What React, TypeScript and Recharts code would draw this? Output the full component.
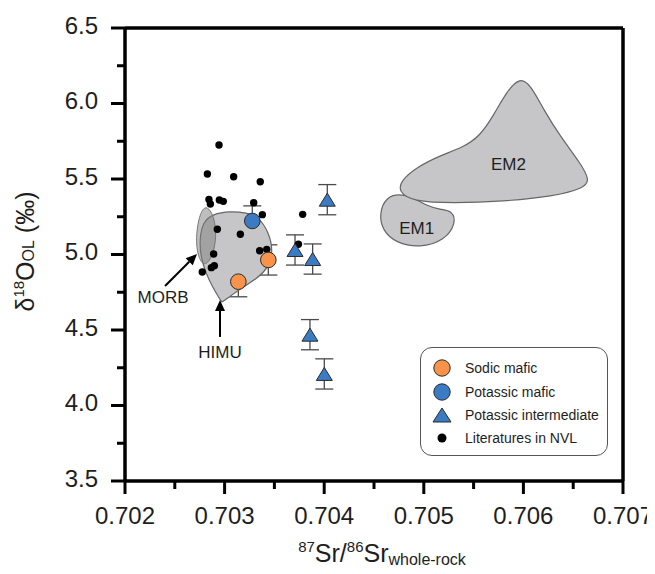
import React from 'react'
import { ScatterChart, Scatter, XAxis, YAxis, ErrorBar, ReferenceLine, Legend, Label } from 'recharts'

// axis ticks
const xMajorTicks = [0.702, 0.703, 0.704, 0.705, 0.706, 0.707]
const xMinorTicks = [0.7025, 0.7035, 0.7045, 0.7055, 0.7065]
const yMajorTicks = [3.5, 4.0, 4.5, 5.0, 5.5, 6.0, 6.5]
const yMinorTicks = [3.75, 4.25, 4.75, 5.25, 5.75, 6.25]

// samples (sr = 87Sr/86Sr whole-rock, d18o = δ18O olivine, err = 1 s.d.)
const sodicMafic = [
    { sr: 0.703138, d18o: 4.82, err: 0.1 },
    { sr: 0.703439, d18o: 4.964, err: 0.1 },
]
const potassicMafic = [{ sr: 0.703278, d18o: 5.222, err: 0.1 }]
const potassicIntermediate = [
    { sr: 0.703707, d18o: 5.03, err: 0.1 },
    { sr: 0.703884, d18o: 4.97, err: 0.1 },
    { sr: 0.704031, d18o: 5.363, err: 0.1 },
    { sr: 0.703857, d18o: 4.469, err: 0.1 },
    { sr: 0.704001, d18o: 4.209, err: 0.1 },
]
const literatureNVL = [
    { sr: 0.702944, d18o: 5.725 },
    { sr: 0.702827, d18o: 5.533 },
    { sr: 0.703091, d18o: 5.515 },
    { sr: 0.703358, d18o: 5.482 },
    { sr: 0.702843, d18o: 5.365 },
    { sr: 0.702857, d18o: 5.334 },
    { sr: 0.702947, d18o: 5.361 },
    { sr: 0.702987, d18o: 5.352 },
    { sr: 0.703292, d18o: 5.343 },
    { sr: 0.703379, d18o: 5.264 },
    { sr: 0.702927, d18o: 5.167 },
    { sr: 0.703158, d18o: 5.134 },
    { sr: 0.703352, d18o: 5.025 },
    { sr: 0.703423, d18o: 5.034 },
    { sr: 0.70289, d18o: 5.003 },
    { sr: 0.702867, d18o: 4.913 },
    { sr: 0.702897, d18o: 4.926 },
    { sr: 0.702776, d18o: 4.884 },
    { sr: 0.703784, d18o: 5.266 },
    { sr: 0.703741, d18o: 5.068 },
]

// mantle end-member fields (outline control points)
const himuField = [
    { sr: 0.702782, d18o: 5.215 },
    { sr: 0.70288, d18o: 5.268 },
    { sr: 0.703054, d18o: 5.287 },
    { sr: 0.703225, d18o: 5.276 },
    { sr: 0.70333, d18o: 5.255 },
    { sr: 0.703448, d18o: 5.148 },
    { sr: 0.703488, d18o: 5.01 },
    { sr: 0.703436, d18o: 4.912 },
    { sr: 0.70333, d18o: 4.842 },
    { sr: 0.70316, d18o: 4.775 },
    { sr: 0.703025, d18o: 4.708 },
    { sr: 0.702972, d18o: 4.684 },
    { sr: 0.702972, d18o: 4.684 },
    { sr: 0.70288, d18o: 4.782 },
    { sr: 0.702812, d18o: 4.876 },
    { sr: 0.70276, d18o: 4.985 },
    { sr: 0.702748, d18o: 5.1 },
]
const morbField = [
    { sr: 0.702825, d18o: 5.32 },
    { sr: 0.702888, d18o: 5.262 },
    { sr: 0.702918, d18o: 5.149 },
    { sr: 0.702898, d18o: 5.03 },
    { sr: 0.702845, d18o: 4.952 },
    { sr: 0.702786, d18o: 4.925 },
    { sr: 0.702728, d18o: 4.995 },
    { sr: 0.702712, d18o: 5.11 },
    { sr: 0.702738, d18o: 5.232 },
    { sr: 0.702776, d18o: 5.3 },
]
const em1Field = [
    { sr: 0.704622, d18o: 5.38 },
    { sr: 0.704552, d18o: 5.273 },
    { sr: 0.704585, d18o: 5.158 },
    { sr: 0.704725, d18o: 5.075 },
    { sr: 0.704962, d18o: 5.045 },
    { sr: 0.705204, d18o: 5.09 },
    { sr: 0.705325, d18o: 5.207 },
    { sr: 0.705288, d18o: 5.29 },
    { sr: 0.705163, d18o: 5.298 },
    { sr: 0.705029, d18o: 5.322 },
    { sr: 0.704895, d18o: 5.378 },
    { sr: 0.704755, d18o: 5.402 },
]
const em2Field = [
    { sr: 0.705966, d18o: 6.175 },
    { sr: 0.706075, d18o: 6.12 },
    { sr: 0.706205, d18o: 5.957 },
    { sr: 0.706372, d18o: 5.78 },
    { sr: 0.706575, d18o: 5.604 },
    { sr: 0.706668, d18o: 5.49 },
    { sr: 0.706608, d18o: 5.44 },
    { sr: 0.7063, d18o: 5.385 },
    { sr: 0.705798, d18o: 5.352 },
    { sr: 0.705296, d18o: 5.34 },
    { sr: 0.704885, d18o: 5.352 },
    { sr: 0.704748, d18o: 5.416 },
    { sr: 0.704768, d18o: 5.487 },
    { sr: 0.704929, d18o: 5.578 },
    { sr: 0.705163, d18o: 5.655 },
    { sr: 0.705397, d18o: 5.71 },
    { sr: 0.705564, d18o: 5.785 },
    { sr: 0.705698, d18o: 5.918 },
    { sr: 0.705832, d18o: 6.08 },
]

const morbArrow = [
    { sr: 0.702402, d18o: 4.791 },
    { sr: 0.702723, d18o: 5.003 },
]
const himuArrow = [
    { sr: 0.702954, d18o: 4.454 },
    { sr: 0.702954, d18o: 4.699 },
]
const fieldLabels = [
    { sr: 0.702382, d18o: 4.718, text: 'MORB' },
    { sr: 0.702954, d18o: 4.354, text: 'HIMU' },
    { sr: 0.704928, d18o: 5.178, text: 'EM1' },
    { sr: 0.705849, d18o: 5.597, text: 'EM2' },
]

const legendItems = ['Sodic mafic', 'Potassic mafic', 'Potassic intermediate', 'Literatures in NVL']

const ORANGE = '#f7934a'
const BLUE = '#3b7bc4'
const FIELD = '#c6c6c8'
const FONT = '"Liberation Sans", Arial, sans-serif'
const TEXT = '#1e1e1e'
const FRAME = 3.5

const isMajor = (v: number, list: number[]) => list.some((m) => Math.abs(m - v) < 1e-7)

const XTick = ({ x, y, payload }: any) => {
    const major = isMajor(payload.value, xMajorTicks)
    return (
        <g>
            <line x1={x} y1={y} x2={x} y2={y + (major ? 13 : 8)} stroke="#000" strokeWidth={3} />
            {major && (
                <text x={x} y={y + 43} textAnchor="middle" fontSize={24} fontFamily={FONT} fill={TEXT}>
                    {payload.value.toFixed(3)}
                </text>
            )}
        </g>
    )
}

const YTick = ({ x, y, payload }: any) => {
    const major = isMajor(payload.value, yMajorTicks)
    return (
        <g>
            <line x1={x - (major ? 14 : 8)} y1={y} x2={x} y2={y} stroke="#000" strokeWidth={3} />
            {major && (
                <text x={x - 27} y={y + 5.5} textAnchor="end" fontSize={24} fontFamily={FONT} fill={TEXT}>
                    {payload.value.toFixed(1)}
                </text>
            )}
        </g>
    )
}

const XTitle = ({ viewBox }: any) => {
    const cx = viewBox.x + viewBox.width / 2 + 8
    const by = viewBox.y + 81
    return (
        <text x={cx} y={by} textAnchor="middle" fontSize={25} fontFamily={FONT} fill={TEXT}>
            <tspan fontSize={15} dy={-10}>87</tspan>
            <tspan dy={10}>Sr/</tspan>
            <tspan fontSize={15} dy={-10}>86</tspan>
            <tspan dy={10}>Sr</tspan>
            <tspan fontSize={16} dy={3}>whole-rock</tspan>
        </text>
    )
}

const YTitle = ({ viewBox }: any) => {
    const cx = viewBox.x + 10
    const cy = viewBox.y + viewBox.height / 2 - 3
    return (
        <text
            transform={`translate(${cx}, ${cy}) rotate(-90)`}
            y={8.5}
            textAnchor="middle"
            fontSize={25}
            fontFamily={FONT}
            fill={TEXT}
        >
            δ<tspan fontSize={15} dy={-10}>18</tspan>
            <tspan dy={10}>O</tspan>
            <tspan fontSize={16}>OL</tspan>
            <tspan> (‰)</tspan>
        </text>
    )
}

const noPoint = () => <g />

const dotShape = (props: any) => <circle cx={props.cx} cy={props.cy} r={3.7} fill="#000" />

const circleShape = (fill: string) => (props: any) =>
    <circle cx={props.cx} cy={props.cy} r={7.8} fill={fill} stroke="#2b2b2b" strokeWidth={1} />

const triangleShape = (props: any) => {
    const { cx, cy } = props
    return (
        <polygon
            points={`${cx},${cy - 6.5} ${cx - 8},${cy + 6.5} ${cx + 8},${cy + 6.5}`}
            fill={BLUE}
            stroke="#2b2b2b"
            strokeWidth={1}
        />
    )
}

const labelShape = (props: any) => (
    <text x={props.cx} y={props.cy + 6} textAnchor="middle" fontSize={17} fontFamily={FONT} fill={TEXT}>
        {props.payload.text}
    </text>
)

const arrowLine = (props: any) => {
    const [a, b] = props.points
    const dx = b.x - a.x
    const dy = b.y - a.y
    const len = Math.hypot(dx, dy)
    const ux = dx / len
    const uy = dy / len
    const hl = 11
    const hw = 5
    const bx = b.x - ux * hl
    const by = b.y - uy * hl
    return (
        <g>
            <line x1={a.x} y1={a.y} x2={bx} y2={by} stroke="#000" strokeWidth={2} />
            <polygon
                points={`${b.x},${b.y} ${bx - uy * hw},${by + ux * hw} ${bx + uy * hw},${by - ux * hw}`}
                fill="#000"
            />
        </g>
    )
}

const LegendBox = () => {
    const rows = [20, 44, 67, 90]
    return (
        <div
            style={{
                width: 188,
                height: 109,
                border: '1px solid #555',
                borderRadius: 12,
                boxSizing: 'border-box',
                background: '#fff',
            }}
        >
            <svg width={186} height={107}>
                <circle cx={21} cy={rows[0]} r={8.2} fill={ORANGE} stroke="#2b2b2b" strokeWidth={1} />
                <circle cx={21} cy={rows[1]} r={8.2} fill={BLUE} stroke="#2b2b2b" strokeWidth={1} />
                <polygon
                    points={`21,${rows[2] - 7} 12,${rows[2] + 7} 30,${rows[2] + 7}`}
                    fill={BLUE}
                    stroke="#2b2b2b"
                    strokeWidth={1}
                />
                <circle cx={21} cy={rows[3]} r={4.5} fill="#000" />
                {legendItems.map((label, i) => (
                    <text key={label} x={44} y={rows[i] + 5} fontSize={14} fontFamily={FONT} fill={TEXT}>
                        {label}
                    </text>
                ))}
            </svg>
        </div>
    )
}

export default function App() {
    return (
        <div style={{ margin: -8, fontFamily: FONT }}>
            <ScatterChart width={655} height={574} margin={{ top: 28, right: 32, bottom: 33, left: 15 }}>
                <XAxis
                    type="number"
                    dataKey="sr"
                    domain={[0.702, 0.707]}
                    ticks={[...xMajorTicks, ...xMinorTicks].sort((a, b) => a - b)}
                    interval={0}
                    allowDataOverflow
                    height={60}
                    tickSize={0}
                    tickMargin={0}
                    tickLine={false}
                    tick={<XTick />}
                    axisLine={{ stroke: '#000', strokeWidth: FRAME }}
                >
                    <Label content={<XTitle />} />
                </XAxis>
                <YAxis
                    type="number"
                    dataKey="d18o"
                    domain={[3.5, 6.5]}
                    ticks={[...yMajorTicks, ...yMinorTicks].sort((a, b) => a - b)}
                    interval={0}
                    allowDataOverflow
                    width={110}
                    tickSize={0}
                    tickMargin={0}
                    tickLine={false}
                    tick={<YTick />}
                    axisLine={{ stroke: '#000', strokeWidth: FRAME }}
                >
                    <Label content={<YTitle />} />
                </YAxis>
                <ReferenceLine y={6.5} stroke="#000" strokeWidth={FRAME} />
                <ReferenceLine x={0.707} stroke="#000" strokeWidth={FRAME} />

                {/* end-member fields */}
                <Scatter
                    data={himuField}
                    fill={FIELD}
                    line={{ fill: FIELD, stroke: '#666', strokeWidth: 1.2 }}
                    lineType="joint"
                    lineJointType="basisClosed"
                    shape={noPoint}
                    isAnimationActive={false}
                />
                <Scatter
                    data={morbField}
                    fill="#7d7d7d"
                    line={{ fill: '#7d7d7d', fillOpacity: 0.5, stroke: '#777', strokeWidth: 1 }}
                    lineType="joint"
                    lineJointType="basisClosed"
                    shape={noPoint}
                    isAnimationActive={false}
                />
                <Scatter
                    data={em1Field}
                    fill={FIELD}
                    line={{ fill: FIELD, stroke: '#666', strokeWidth: 1.2 }}
                    lineType="joint"
                    lineJointType="basisClosed"
                    shape={noPoint}
                    isAnimationActive={false}
                />
                <Scatter
                    data={em2Field}
                    fill={FIELD}
                    line={{ fill: FIELD, stroke: '#666', strokeWidth: 1.2 }}
                    lineType="joint"
                    lineJointType="basisClosed"
                    shape={noPoint}
                    isAnimationActive={false}
                />
                <Scatter data={morbArrow} line={arrowLine} lineType="joint" shape={noPoint} isAnimationActive={false} />
                <Scatter data={himuArrow} line={arrowLine} lineType="joint" shape={noPoint} isAnimationActive={false} />
                <Scatter data={fieldLabels} shape={labelShape} isAnimationActive={false} />

                {/* samples */}
                <Scatter data={literatureNVL} shape={dotShape} isAnimationActive={false} />
                <Scatter data={sodicMafic} shape={circleShape(ORANGE)} isAnimationActive={false}>
                    <ErrorBar dataKey="err" direction="y" width={9} stroke="#4a4a4a" strokeWidth={1.3} />
                </Scatter>
                <Scatter data={potassicMafic} shape={circleShape(BLUE)} isAnimationActive={false}>
                    <ErrorBar dataKey="err" direction="y" width={9} stroke="#4a4a4a" strokeWidth={1.3} />
                </Scatter>
                <Scatter data={potassicIntermediate} shape={triangleShape} isAnimationActive={false}>
                    <ErrorBar dataKey="err" direction="y" width={9} stroke="#4a4a4a" strokeWidth={1.3} />
                </Scatter>

                <Legend
                    content={<LegendBox />}
                    layout="vertical"
                    align="center"
                    verticalAlign="middle"
                    wrapperStyle={{ left: 420, top: 347, width: 188, height: 109 }}
                />
            </ScatterChart>
        </div>
    )
}
